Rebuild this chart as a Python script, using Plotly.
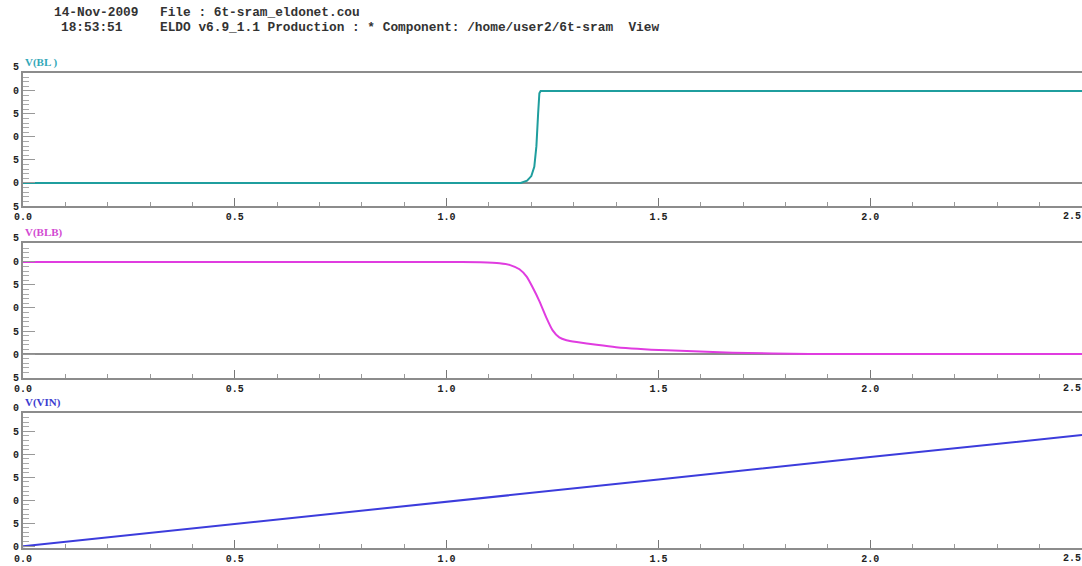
import plotly.graph_objects as go

# ---------------- data ----------------
t_bl = [0, 1.175, 1.19, 1.20, 1.207, 1.212, 1.216, 1.219, 1.222, 2.5]
v_bl = [0, 0, 0.05, 0.15, 0.35, 0.8, 1.5, 1.95, 2.0, 2.0]

t_blb = [0, 1.0, 1.08, 1.125, 1.15, 1.172, 1.189, 1.203, 1.219, 1.236, 1.25,
         1.266, 1.283, 1.307, 1.354, 1.40, 1.52, 1.675, 1.856, 2.5]
v_blb = [2.0, 2.0, 1.99, 1.97, 1.93, 1.84, 1.68, 1.45, 1.15, 0.78, 0.52,
         0.36, 0.30, 0.26, 0.20, 0.15, 0.08, 0.03, 0.0, 0.0]

t_vin = [0, 0.5, 1.0, 1.5, 2.0, 2.5]
v_vin = [0, 0.48, 0.97, 1.45, 1.94, 2.42]

x_tickvals = [0, 0.5, 1.0, 1.5, 2.0, 2.5]
x_ticktext = ["0.0", "0.5", "1.0", "1.5", "2.0", ""]
x_last_text = "2.5"

y12_tickvals = [-0.5, 0, 0.5, 1.0, 1.5, 2.0]
y12_ticktext = ["5", "0", "5", "0", "5", "0"]
y12_extra_val, y12_extra_text = 2.5, "5"

y3_tickvals = [0, 0.5, 1.0, 1.5, 2.0, 2.5]
y3_ticktext = ["0", "5", "0", "5", "0", "5"]
y3_extra_val, y3_extra_text = 3.0, "0"

titles = ["V(BL )", "V(BLB)", "V(VIN)"]
colors = ["#1f9e9e", "#e03ce0", "#3c3cdc"]
title_colors = ["#33a8b8", "#d24ad2", "#3c3cd0"]

header_date = "14-Nov-2009"
header_time = "18:53:51"
header_file = "File : 6t-sram_eldonet.cou"
header_info = "ELDO v6.9_1.1 Production : * Component: /home/user2/6t-sram  View"

# ---------------- layout geometry ----------------
W, H = 1082, 566
panels_px = [(73, 206), (243, 378), (413, 548)]
yranges = [[-0.5, 2.39], [-0.52, 2.41], [-0.04, 2.9]]
x_left = 23 / W

def dom(top, bot):
    return [1 - bot / H, 1 - top / H]

fig = go.Figure()
series = [(t_bl, v_bl), (t_blb, v_blb), (t_vin, v_vin)]
for i, (tx, vy) in enumerate(series):
    xa = "x" if i == 0 else f"x{i+1}"
    ya = "y" if i == 0 else f"y{i+1}"
    fig.add_trace(go.Scatter(x=tx, y=vy, mode="lines", xaxis=xa, yaxis=ya,
                             line=dict(color=colors[i], width=2,
                                       shape="spline" if i == 1 else "linear",
                                       smoothing=0.5),
                             showlegend=False, hoverinfo="skip"))

tickfont = dict(family="Liberation Mono", size=10, color="#222", weight="bold")
layout = dict(width=W, height=H, autosize=False,
              margin=dict(l=0, r=0, t=0, b=0, autoexpand=False),
              paper_bgcolor="white", plot_bgcolor="white", showlegend=False)

annotations = []
for i in range(3):
    sx = "xaxis" if i == 0 else f"xaxis{i+1}"
    sy = "yaxis" if i == 0 else f"yaxis{i+1}"
    yname = "y" if i == 0 else f"y{i+1}"
    top, bot = panels_px[i]
    layout[sx] = dict(domain=[x_left, 1.0], range=[0, 2.5], anchor=yname,
                      tickvals=x_tickvals, ticktext=x_ticktext,
                      ticks="inside", ticklen=8, tickwidth=1, tickcolor="#777",
                      minor=dict(dtick=0.1, tick0=0, ticks="inside", ticklen=4,
                                 tickcolor="#999", tickwidth=1),
                      showline=True, linecolor="#8c8c8c", linewidth=2, mirror=True,
                      showgrid=False, zeroline=False, tickfont=tickfont,
                      fixedrange=True)
    if i < 2:
        tv, tt = y12_tickvals, y12_ticktext
        ev, et = y12_extra_val, y12_extra_text
    else:
        tv, tt = y3_tickvals, y3_ticktext
        ev, et = y3_extra_val, y3_extra_text
    d = dom(top, bot)
    r0, r1 = yranges[i]
    layout[sy] = dict(domain=d, range=yranges[i],
                      anchor="x" if i == 0 else f"x{i+1}",
                      tickvals=tv, ticktext=tt,
                      ticks="inside", ticklen=12, tickwidth=1, tickcolor="#999",
                      minor=dict(dtick=0.1, tick0=0, ticks="inside", ticklen=6,
                                 tickcolor="#aaa", tickwidth=1),
                      showline=True, linecolor="#8c8c8c", linewidth=2,
                      showgrid=False, zeroline=(i < 2), zerolinecolor="#8c8c8c",
                      zerolinewidth=2, tickfont=tickfont, fixedrange=True)
    # out-of-range top label, placed on the same value scale as the axis
    y_paper = d[0] + (ev - r0) / (r1 - r0) * (d[1] - d[0])
    annotations.append(dict(x=x_left, xref="paper", y=y_paper, yref="paper",
                            text=et, showarrow=False, xanchor="right",
                            yanchor="middle", xshift=-2, font=tickfont))
    # last x label kept inside the right edge
    annotations.append(dict(x=1.0, xref="paper", y=d[0], yref="paper",
                            text=x_last_text, showarrow=False, xanchor="right",
                            yanchor="top", yshift=-4, font=tickfont, borderpad=0))
    # panel title
    annotations.append(dict(x=x_left, xref="paper", y=1 - (top - 11) / H,
                            yref="paper", text=titles[i], showarrow=False,
                            xanchor="left", yanchor="middle",
                            font=dict(family="Liberation Serif", size=11,
                                      color=title_colors[i], weight="bold")))

hfont = dict(family="Liberation Mono", size=12.8, color="#333", weight="bold")
for txt, x, y in [(header_date, 53, 12), (header_time, 60, 27),
                  (header_file, 159, 12), (header_info, 159, 27)]:
    annotations.append(dict(x=x / W, xref="paper", y=1 - y / H, yref="paper",
                            text=txt.replace(" ", "&nbsp;"), showarrow=False,
                            xanchor="left", yanchor="middle", font=hfont,
                            borderpad=0))

layout["annotations"] = annotations
fig.update_layout(**layout)
fig.write_html("out.html",
               config={"displayModeBar": False},
               post_script="document.body.style.margin='0';"
                           "document.body.style.overflow='hidden';")
